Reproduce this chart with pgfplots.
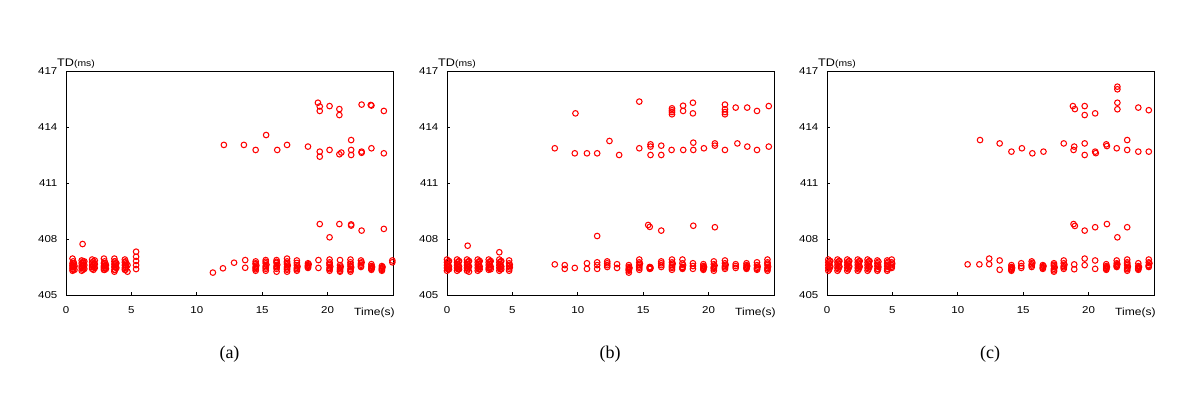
\documentclass[border=0pt]{standalone}
\usepackage{pgfplots}
\pgfplotsset{compat=1.18}
\usepackage{fontspec}
\setmainfont{Liberation Sans}
\newfontfamily\capfont{Liberation Serif}
\definecolor{ptred}{RGB}{255,0,0}
\pgfplotsset{
  tdax/.style={
    scale only axis, width=327pt, height=224pt,
    xmin=0, xmax=25, ymin=405, ymax=417,
    xtick={0,5,10,15,20}, ytick={405,408,411,414,417},
    tick align=inside, tick pos=left, major tick length=3pt,
    axis line style={line width=0.8pt, black},
    every tick/.style={black, line width=0.8pt},
    /pgf/number format/assume math mode=true,
    /pgf/number format/1000 sep={},
    ticklabel style={font=\fontsize{10}{11}\selectfont, xscale=1.15},
    xticklabel style={yshift=-8pt},
    yticklabel style={xshift=-4pt},
    clip=false,
  },
  tdplot/.style={only marks, mark=o, mark size=2.8pt, ptred, line width=1.05pt},
}
\newcommand{\axlabels}{%
  \node[anchor=west, font=\fontsize{11}{12}\selectfont, xscale=1.15, inner sep=0pt] at ([xshift=-9pt,yshift=7pt]rel axis cs:0,1) {TD\fontsize{9}{10}\selectfont(ms)};
  \node[anchor=west, font=\fontsize{10.5}{11}\selectfont, xscale=1.15, inner sep=0pt] at ([xshift=-39pt,yshift=-18pt]rel axis cs:1,0) {Time(s)};
}
\begin{document}
\begin{tikzpicture}
\path[use as bounding box] (0,0) rectangle (1200pt,403pt);
% ---------------- (a)
\begin{axis}[tdax, at={(66pt,108pt)}, anchor=south west]
\addplot[tdplot] table {
x y
0.5 406.95
0.5 406.7
0.5 406.6
0.5 406.5
0.5 406.4
0.5 406.3
0.65 406.55
0.65 406.35
1.2 406.85
1.2 406.7
1.2 406.55
1.2 406.45
1.2 406.3
1.4 406.8
1.4 406.6
1.4 406.4
1.27 407.73
2.0 406.9
2.0 406.75
2.0 406.6
2.0 406.5
2.0 406.4
2.2 406.85
2.2 406.65
2.2 406.45
2.9 406.95
2.9 406.7
2.9 406.55
2.9 406.45
2.9 406.35
3.05 406.6
3.05 406.4
3.7 406.95
3.7 406.8
3.7 406.65
3.7 406.5
3.7 406.35
3.7 406.25
3.85 406.7
3.85 406.45
4.5 406.9
4.5 406.75
4.5 406.6
4.5 406.45
4.5 406.35
4.7 406.6
4.7 406.25
5.36 407.32
5.36 407.05
5.36 406.82
5.36 406.6
5.36 406.39
11.23 406.2
12.0 406.43
12.85 406.73
13.7 406.87
13.7 406.46
14.5 406.8
14.5 406.65
14.5 406.5
14.5 406.38
14.5 406.3
15.27 406.87
15.27 406.7
15.27 406.55
15.27 406.4
15.27 406.3
16.1 406.87
16.1 406.72
16.1 406.55
16.1 406.4
16.1 406.25
16.9 406.95
16.9 406.8
16.9 406.65
16.9 406.5
16.9 406.35
16.9 406.25
17.65 406.85
17.65 406.6
17.65 406.45
17.65 406.3
18.5 406.7
18.5 406.6
18.5 406.5
18.5 406.45
19.3 406.87
19.3 406.45
20.15 406.9
20.15 406.75
20.15 406.6
20.15 406.45
20.15 406.3
20.95 406.87
20.95 406.6
20.95 406.45
20.95 406.3
20.95 406.25
21.75 406.9
21.75 406.75
21.75 406.55
21.75 406.4
21.75 406.25
22.55 406.85
22.55 406.7
22.55 406.55
22.55 406.5
23.35 406.65
23.35 406.55
23.35 406.45
23.35 406.35
24.15 406.55
24.15 406.45
24.15 406.35
24.15 406.3
24.95 406.85
24.95 406.75
19.4 408.8
20.15 408.09
20.9 408.8
21.8 408.78
21.8 408.72
22.6 408.45
24.3 408.54
12.07 413.04
13.6 413.04
14.5 412.77
15.3 413.57
16.15 412.77
16.9 413.04
18.5 412.95
19.4 412.68
19.4 412.41
20.15 412.77
20.9 412.54
21.05 412.63
21.8 413.3
21.8 412.77
21.8 412.5
22.6 412.68
22.6 412.62
23.35 412.86
24.3 412.59
19.26 415.3
19.4 415.1
19.4 414.86
20.15 415.12
20.9 414.96
20.9 414.64
22.6 415.2
23.3 415.18
23.35 415.15
24.3 414.86
};
% dense parts of the columns
\addplot[tdplot] table {
x y
0.55 406.35
0.6 406.48
0.55 406.58
0.6 406.7
0.55 406.8
1.3 406.35
1.35 406.48
1.3 406.58
1.35 406.7
1.3 406.8
2.1 406.35
2.15 406.48
2.1 406.58
2.15 406.7
2.1 406.8
2.95 406.35
3.0 406.48
2.95 406.58
3.0 406.7
2.95 406.8
3.75 406.35
3.8 406.48
3.75 406.58
3.8 406.7
3.75 406.8
4.55 406.35
4.6 406.48
4.55 406.58
4.6 406.7
4.55 406.8
14.5 406.45
14.55 406.58
14.5 406.7
15.27 406.48
15.32 406.62
15.27 406.78
16.1 406.48
16.15 406.62
16.1 406.78
16.9 406.42
16.95 406.58
16.9 406.72
17.65 406.38
17.7 406.52
17.65 406.72
18.5 406.55
18.55 406.65
20.15 406.38
20.2 406.52
20.15 406.68
20.95 406.38
21.0 406.52
21.75 406.33
21.8 406.48
21.75 406.65
22.55 406.62
22.6 406.75
23.35 406.4
23.4 406.5
24.15 406.4
24.2 406.5
};
\axlabels
\end{axis}
% ---------------- (b)
\begin{axis}[tdax, at={(447pt,108pt)}, anchor=south west]
\addplot[tdplot] table {
x y
0.0 406.9
0.0 406.75
0.0 406.6
0.0 406.45
0.0 406.3
0.15 406.82
0.15 406.52
0.15 406.38
0.77 406.9
0.77 406.75
0.77 406.6
0.77 406.45
0.77 406.3
0.92 406.82
0.92 406.52
0.92 406.38
1.53 406.9
1.53 406.75
1.53 406.6
1.53 406.45
1.53 406.3
1.68 406.82
1.68 406.52
1.68 406.25
1.58 407.64
2.35 406.9
2.35 406.75
2.35 406.6
2.35 406.45
2.35 406.3
2.5 406.82
2.5 406.52
2.5 406.38
3.19 406.9
3.19 406.75
3.19 406.6
3.19 406.45
3.19 406.35
3.34 406.82
3.34 406.52
3.34 406.38
4.0 406.9
4.0 406.75
4.0 406.6
4.0 406.45
4.0 406.3
4.15 406.82
4.15 406.52
4.15 406.38
4.0 407.29
4.75 406.85
4.75 406.7
4.75 406.55
4.75 406.4
4.75 406.3
8.24 406.64
9.0 406.6
9.0 406.4
9.77 406.45
10.7 406.7
10.7 406.4
11.48 406.75
11.48 406.6
11.48 406.4
12.25 406.8
12.25 406.7
12.25 406.6
12.25 406.5
13.0 406.65
13.0 406.45
13.9 406.6
13.9 406.5
13.9 406.4
13.9 406.3
13.9 406.2
14.7 406.9
14.7 406.75
14.7 406.6
14.7 406.45
14.7 406.35
15.5 406.5
15.5 406.45
15.5 406.4
16.38 406.8
16.38 406.7
16.38 406.6
16.38 406.5
17.2 406.9
17.2 406.75
17.2 406.6
17.2 406.45
17.2 406.35
18.0 406.9
18.0 406.7
18.0 406.5
18.0 406.4
18.8 406.7
18.8 406.55
18.8 406.4
19.6 406.65
19.6 406.55
19.6 406.45
19.6 406.35
20.4 406.8
20.4 406.65
20.4 406.5
20.4 406.4
20.4 406.3
21.25 406.85
21.25 406.7
21.25 406.55
21.25 406.4
22.07 406.65
22.07 406.55
22.07 406.45
22.9 406.7
22.9 406.6
22.9 406.5
22.9 406.4
23.7 406.75
23.7 406.6
23.7 406.45
23.7 406.35
24.5 406.9
24.5 406.75
24.5 406.6
24.5 406.45
24.5 406.3
11.48 408.16
15.38 408.75
15.5 408.65
16.38 408.45
18.83 408.71
20.48 408.63
8.24 412.86
9.77 412.59
10.7 412.59
11.48 412.59
12.42 413.25
13.16 412.5
14.7 412.86
15.56 413.07
15.56 412.95
15.56 412.5
16.38 413.0
16.38 412.5
17.17 412.77
18.06 412.77
18.83 413.16
18.83 412.77
19.64 412.86
20.48 413.12
20.48 413.0
21.25 412.77
22.2 413.12
22.96 412.95
23.7 412.77
24.6 412.95
9.82 414.73
14.7 415.36
17.2 415.0
17.2 414.9
17.2 414.8
17.2 414.68
18.05 415.14
18.05 414.86
18.8 415.3
18.8 414.73
21.25 415.2
21.25 414.95
21.25 414.8
21.25 414.68
22.07 415.04
22.95 415.04
23.7 414.86
24.6 415.12
};
\addplot[tdplot] table {
x y
0.07 406.38
0.1 406.5
0.07 406.65
0.1 406.78
0.85 406.38
0.88 406.5
0.85 406.65
0.88 406.78
1.6 406.38
1.63 406.5
1.6 406.65
1.63 406.78
2.42 406.38
2.45 406.5
2.42 406.65
2.45 406.78
3.26 406.42
3.29 406.5
3.26 406.65
3.29 406.78
4.07 406.38
4.1 406.5
4.07 406.65
4.1 406.78
4.8 406.48
4.8 406.62
13.9 406.35
13.95 406.45
14.7 406.52
14.75 406.68
15.55 406.42
15.55 406.48
17.2 406.52
17.25 406.68
18.0 406.45
18.05 406.6
19.6 406.4
19.65 406.5
20.4 406.45
20.45 406.58
21.25 406.48
21.3 406.62
22.9 406.45
22.95 406.55
23.7 406.4
23.75 406.52
24.5 406.38
24.55 406.52
24.5 406.68
};
\axlabels
\end{axis}
% ---------------- (c)
\begin{axis}[tdax, at={(827pt,108pt)}, anchor=south west]
\addplot[tdplot] table {
x y
0.1 406.9
0.1 406.75
0.1 406.6
0.1 406.45
0.1 406.3
0.25 406.82
0.25 406.52
0.8 406.9
0.8 406.75
0.8 406.6
0.8 406.45
0.8 406.3
0.95 406.82
0.95 406.52
1.55 406.9
1.55 406.75
1.55 406.6
1.55 406.45
1.55 406.3
1.7 406.82
1.7 406.52
2.35 406.9
2.35 406.75
2.35 406.6
2.35 406.45
2.35 406.3
2.5 406.82
2.5 406.52
3.1 406.9
3.1 406.75
3.1 406.6
3.1 406.45
3.1 406.3
3.25 406.82
3.25 406.52
3.85 406.85
3.85 406.7
3.85 406.55
3.85 406.4
3.85 406.3
4.6 406.85
4.6 406.7
4.6 406.55
4.6 406.4
4.6 406.3
4.95 406.9
4.95 406.75
4.95 406.6
4.95 406.45
10.75 406.64
11.65 406.64
12.4 406.95
12.4 406.65
13.2 406.85
13.2 406.35
14.1 406.6
14.1 406.5
14.1 406.4
14.1 406.3
14.85 406.7
14.85 406.55
14.85 406.45
15.65 406.8
15.65 406.65
15.65 406.5
16.5 406.6
16.5 406.5
16.5 406.4
17.35 406.7
17.35 406.55
17.35 406.4
17.35 406.25
18.1 406.85
18.1 406.7
18.1 406.55
18.1 406.4
18.9 406.64
18.9 406.38
19.7 406.95
19.7 406.6
20.5 406.85
20.5 406.4
21.35 406.65
21.35 406.55
21.35 406.45
21.35 406.35
22.15 406.85
22.15 406.7
22.15 406.6
22.15 406.5
22.95 406.9
22.95 406.75
22.95 406.6
22.95 406.45
22.95 406.3
23.8 406.7
23.8 406.55
23.8 406.45
23.8 406.35
24.6 406.9
24.6 406.75
24.6 406.6
24.6 406.5
18.85 408.8
18.95 408.7
19.7 408.45
20.5 408.63
21.4 408.8
22.2 408.09
22.95 408.63
11.7 413.3
13.2 413.12
14.1 412.68
14.9 412.86
15.7 412.59
16.55 412.68
18.1 413.12
18.9 412.95
18.85 412.77
19.7 413.12
19.7 412.5
20.5 412.68
20.55 412.6
21.35 413.07
21.4 412.98
22.15 412.86
22.95 413.3
22.95 412.77
23.8 412.68
24.6 412.68
18.8 415.12
18.95 414.96
19.7 415.12
19.7 414.64
20.5 414.73
22.2 416.16
22.2 416.02
22.2 415.3
22.2 414.95
23.8 415.04
24.6 414.9
};
\addplot[tdplot] table {
x y
0.17 406.38
0.2 406.5
0.17 406.68
0.2 406.8
0.87 406.38
0.9 406.5
0.87 406.68
0.9 406.8
1.62 406.38
1.65 406.5
1.62 406.68
1.65 406.8
2.42 406.38
2.45 406.5
2.42 406.68
2.45 406.8
3.17 406.38
3.2 406.5
3.17 406.68
3.2 406.8
3.9 406.38
3.93 406.5
3.9 406.62
3.93 406.78
4.65 406.38
4.68 406.5
4.65 406.62
4.68 406.78
4.95 406.52
4.98 406.68
14.1 406.35
14.15 406.45
15.65 406.58
15.7 406.72
16.5 406.45
16.55 406.55
17.35 406.32
17.4 406.48
17.35 406.62
18.1 406.48
18.15 406.62
21.35 406.4
21.4 406.5
22.15 406.55
22.2 406.65
22.95 406.38
23.0 406.52
22.95 406.68
23.8 406.4
23.85 406.5
24.6 406.55
24.65 406.7
};
\axlabels
\end{axis}
% captions
\node[font=\capfont\fontsize{18}{20}\selectfont] at (229.5pt,49pt) {(a)};
\node[font=\capfont\fontsize{18}{20}\selectfont] at (610pt,49pt) {(b)};
\node[font=\capfont\fontsize{18}{20}\selectfont] at (990pt,49pt) {(c)};
\end{tikzpicture}
\end{document}
